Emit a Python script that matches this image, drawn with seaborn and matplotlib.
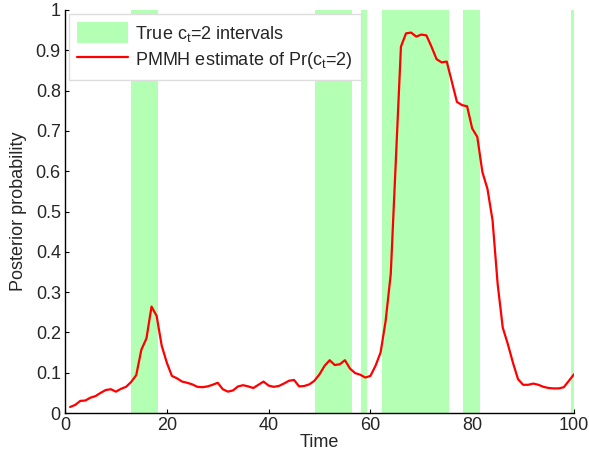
import numpy as np
import pandas as pd
import seaborn as sns
import matplotlib
matplotlib.use("Agg")
import matplotlib.pyplot as plt

# posterior estimate, t = 1..100
time_steps = list(range(1, 101))
posterior = [
    0.015, 0.020, 0.030, 0.031, 0.038, 0.042, 0.050, 0.057, 0.059, 0.053,
    0.060, 0.065, 0.077, 0.094, 0.157, 0.185, 0.264, 0.241, 0.167, 0.125,
    0.092, 0.086, 0.078, 0.075, 0.071, 0.065, 0.064, 0.066, 0.070, 0.075,
    0.059, 0.053, 0.056, 0.066, 0.069, 0.066, 0.062, 0.070, 0.078, 0.068,
    0.065, 0.067, 0.073, 0.080, 0.082, 0.066, 0.067, 0.071, 0.080, 0.096,
    0.117, 0.131, 0.119, 0.121, 0.131, 0.110, 0.099, 0.095, 0.088, 0.092,
    0.117, 0.150, 0.229, 0.345, 0.627, 0.909, 0.942, 0.944, 0.934, 0.939,
    0.937, 0.909, 0.878, 0.870, 0.872, 0.822, 0.772, 0.764, 0.761, 0.706,
    0.685, 0.598, 0.556, 0.478, 0.320, 0.212, 0.171, 0.125, 0.084, 0.070,
    0.070, 0.073, 0.070, 0.065, 0.062, 0.061, 0.061, 0.064, 0.080, 0.096,
]

# true c_t = 2 intervals (start, end)
interval_starts = [12.9, 49.1, 58.2, 62.3, 78.2, 99.4]
interval_ends = [18.2, 56.3, 59.3, 75.4, 81.5, 100.6]

sns.set_style("ticks")
plt.rcParams["font.family"] = ["Liberation Sans", "DejaVu Sans"]
plt.rcParams["mathtext.default"] = "regular"
plt.rcParams["xtick.direction"] = "in"
plt.rcParams["ytick.direction"] = "in"

df = pd.DataFrame({"Time": time_steps, "Posterior": posterior})

fig = plt.figure(figsize=(5.89, 4.57), dpi=100)
ax = fig.add_axes([65 / 589, 1 - 413 / 457, 509 / 589, 403 / 457])

for i, (s, e) in enumerate(zip(interval_starts, interval_ends)):
    ax.axvspan(s, e, color="#b3ffb3", lw=0,
               label="True c$_t$=2 intervals" if i == 0 else None)

sns.lineplot(data=df, x="Time", y="Posterior", color="red", lw=1.6,
             label="PMMH estimate of Pr(c$_t$=2)", ax=ax)

ax.set_xlim(0, 100)
ax.set_ylim(0, 1)
ax.set_xticks(np.arange(0, 101, 20))
ax.set_yticks(np.arange(0, 1.01, 0.1))
ax.set_yticklabels(["0", "0.1", "0.2", "0.3", "0.4", "0.5", "0.6",
                    "0.7", "0.8", "0.9", "1"])
ax.tick_params(labelsize=13, length=3, width=0.8, color="black", pad=3)
ax.set_xlabel("Time", fontsize=13, labelpad=0)
ax.set_ylabel("Posterior probability", fontsize=13, labelpad=6)
sns.despine(ax=ax)
for sp in ["left", "bottom"]:
    ax.spines[sp].set_color("black")
    ax.spines[sp].set_linewidth(1.0)

leg = ax.legend(loc="upper left", bbox_to_anchor=(0.008, 0.99),
                borderaxespad=0, fontsize=13, fancybox=False,
                handlelength=2.8, handleheight=1.4, labelspacing=0.3,
                handletextpad=0.4, borderpad=0.45, framealpha=1)
leg.get_frame().set_edgecolor("#dddddd")
leg.get_frame().set_linewidth(1.0)

fig.savefig("out.png", dpi=100)
